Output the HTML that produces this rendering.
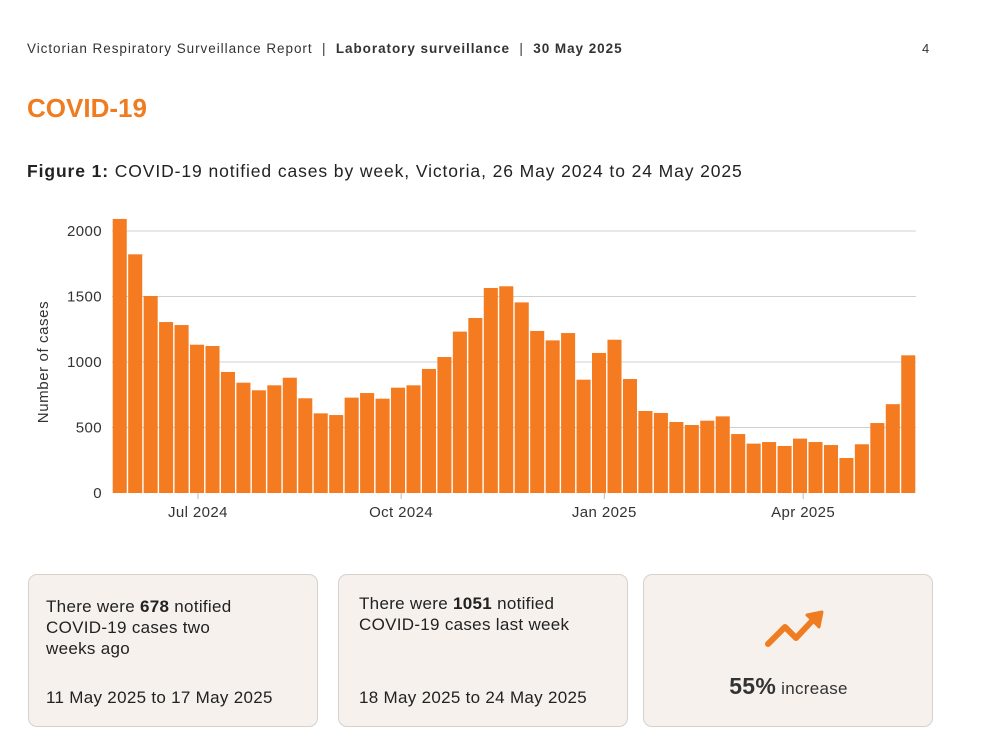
<!DOCTYPE html>
<html><head><meta charset="utf-8">
<style>
body{margin:0;width:982px;height:756px;background:#fff;font-family:"Liberation Sans",sans-serif;color:#222;position:relative;overflow:hidden}
.abs{position:absolute;white-space:nowrap}
.box{position:absolute;top:574px;height:153px;width:290px;background:#f6f1ed;border:1px solid #d8d0ca;border-radius:9px;box-sizing:border-box}
.bt{position:absolute;left:17px;font-size:17px;line-height:21px;color:#222;letter-spacing:0.3px}
</style></head><body>
<div class="abs" style="left:27px;top:41px;font-size:13.5px;color:#333;letter-spacing:0.95px">Victorian Respiratory Surveillance Report &nbsp;| &nbsp;<b>Laboratory surveillance</b> &nbsp;| &nbsp;<b>30 May 2025</b></div>
<div class="abs" style="left:922px;top:41px;font-size:13px;color:#333">4</div>
<div class="abs" style="left:27px;top:93px;font-size:26px;font-weight:bold;color:#f07c22">COVID-19</div>
<div class="abs" style="left:27px;top:161px;font-size:17.5px;color:#222;letter-spacing:0.9px"><b>Figure 1:</b> COVID-19 notified cases by week, Victoria, 26 May 2024 to 24 May 2025</div>

<svg id="chart" class="abs" style="left:0;top:200px" width="982" height="340"></svg>

<div class="box" style="left:28px">
<div class="bt" style="top:21px">There were <b>678</b> notified<br>COVID-19 cases two<br>weeks ago</div>
<div class="bt" style="top:112px">11 May 2025 to 17 May 2025</div></div>
<div class="box" style="left:338px">
<div class="bt" style="top:18px;left:20px">There were <b>1051</b> notified<br>COVID-19 cases last week</div>
<div class="bt" style="top:112px;left:20px">18 May 2025 to 24 May 2025</div></div>
<div class="box" style="left:643px">
<svg class="abs" style="left:0;top:0" width="289" height="80">
<polyline points="124,69 141,52 152,63 168,46" fill="none" stroke="#f07c22" stroke-width="6" stroke-linecap="round" stroke-linejoin="round"/>
<polygon points="163,40 178,37 175,52" fill="#f07c22" stroke="#f07c22" stroke-width="3" stroke-linejoin="round"/></svg>
<div class="abs" style="left:0;width:289px;text-align:center;top:98px;font-size:17px;color:#333;letter-spacing:0.3px"><b style="font-size:23px;color:#333">55%</b> increase</div></div>

<script>
const weekLabels=["2024-05-26"];
const cases=[2092,1822,1504,1305,1282,1132,1122,924,842,784,822,880,723,608,595,728,763,720,804,822,947,1038,1232,1336,1565,1578,1455,1237,1165,1221,865,1069,1170,870,626,611,542,519,552,585,450,377,389,359,415,389,366,267,372,534,678,1051];
const yTicks=[0,500,1000,1500,2000];
const xTickLabels=["Jul 2024","Oct 2024","Jan 2025","Apr 2025"];
const xTickDates=["2024-07-01","2024-10-01","2025-01-01","2025-04-01"];
const NS="http://www.w3.org/2000/svg";
const svg=document.getElementById('chart');
const x0=112,x1=916,yBase=293,yTop=31,yMax=2000;
const slot=(x1-x0)/cases.length;
const start=new Date(weekLabels[0]+"T00:00:00Z");
function y(v){return yBase-(v/yMax)*(yBase-yTop);}
function xDay(d){return x0+(d+2.9)*slot/7;}
function dayOf(s){return (new Date(s+"T00:00:00Z")-start)/86400000;}
function mk(t,a){const e=document.createElementNS(NS,t);for(const k in a)e.setAttribute(k,a[k]);svg.appendChild(e);return e;}
yTicks.forEach(v=>{
  if(v>0){const l=mk('line',{x1:x0,x2:x1,y1:y(v),y2:y(v),stroke:'#d0d0d0','stroke-width':1});
  
  }
  const t=mk('text',{x:102,y:y(v)+5,'text-anchor':'end','font-size':15,fill:'#333','font-family':'Liberation Sans','letter-spacing':'0.4'});
  t.textContent=v;
  
  
});
cases.forEach((v,i)=>{
  const r=mk('rect',{x:x0+i*slot+0.7,y:y(v),width:slot-1.4,height:yBase-y(v),fill:'#f47b20'});
  
  
});
xTickDates.forEach((d,i)=>{
  const x=xDay(dayOf(d));
  const l=mk('line',{x1:x,x2:x,y1:yBase,y2:yBase+6,stroke:'#bbb'});
  
  
  const t=mk('text',{x:x,y:yBase+24,'text-anchor':'middle','font-size':15,fill:'#333','font-family':'Liberation Sans','letter-spacing':'0.4'});
  t.textContent=xTickLabels[i];
  
  
});
const at=mk('text',{x:48,y:162,'text-anchor':'middle','font-size':15,fill:'#333','font-family':'Liberation Sans','letter-spacing':'0.6',transform:'rotate(-90 48 162)'});
at.textContent='Number of cases';


</script>
</body></html>
